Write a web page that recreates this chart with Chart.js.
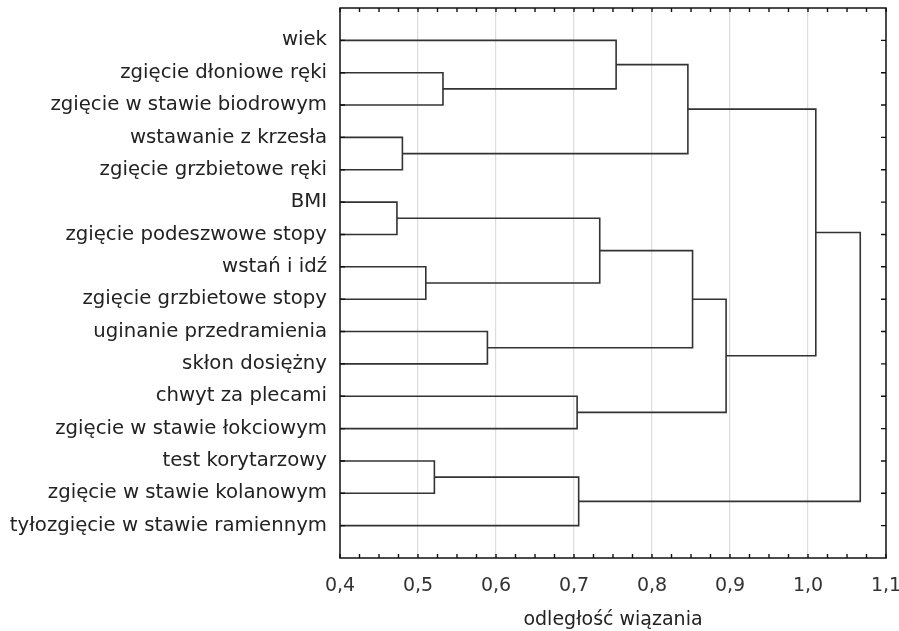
<!DOCTYPE html>
<html>
<head>
<meta charset="utf-8">
<script src="https://cdn.jsdelivr.net/npm/chart.js@4/dist/chart.umd.min.js"></script>
<style>
  body { margin: 0; background: #fff; }
  #wrap { width: 899px; height: 631px; }
</style>
</head>
<body>
<div id="wrap"><canvas id="dendro" width="899" height="631"></canvas></div>
<script>
// leaves, top to bottom
const leaves = [
    'wiek',
    'zgięcie dłoniowe ręki',
    'zgięcie w stawie biodrowym',
    'wstawanie z krzesła',
    'zgięcie grzbietowe ręki',
    'BMI',
    'zgięcie podeszwowe stopy',
    'wstań i idź',
    'zgięcie grzbietowe stopy',
    'uginanie przedramienia',
    'skłon dosiężny',
    'chwyt za plecami',
    'zgięcie w stawie łokciowym',
    'test korytarzowy',
    'zgięcie w stawie kolanowym',
    'tyłozgięcie w stawie ramiennym'
];
// merges: node 16 + k joins mergeA[k] and mergeB[k] at mergeHeight[k]
const mergeA = [1, 3, 5, 7, 9, 13, 0, 11, 21, 18, 22, 25, 27, 26, 29];
const mergeB = [2, 4, 6, 8, 10, 14, 16, 12, 15, 19, 17, 20, 23, 28, 24];
const mergeHeight = [0.532, 0.480, 0.473, 0.510, 0.589, 0.521, 0.754, 0.704, 0.706, 0.733, 0.846, 0.852, 0.895, 1.010, 1.067];
const xTicks = [0.4, 0.5, 0.6, 0.7, 0.8, 0.9, 1.0, 1.1];
const xTitle = 'odległość wiązania';

const X_MIN = xTicks[0], X_MAX = xTicks[xTicks.length - 1];

// node positions / heights
const pos = leaves.map((_, i) => i);
const height = leaves.map(() => X_MIN);
const datasets = [];
mergeA.forEach(function(a, k) {
    const b = mergeB[k], h = mergeHeight[k];
    datasets.push({
        data: [
            { x: height[a], y: pos[a] },
            { x: h, y: pos[a] },
            { x: h, y: pos[b] },
            { x: height[b], y: pos[b] }
        ],
        showLine: true,
        borderColor: '#333',
        borderWidth: 1.6,
        pointRadius: 0,
        fill: false
    });
    pos.push((pos[a] + pos[b]) / 2);
    height.push(h);
});

const fmt = v => v.toFixed(1).replace('.', ',');

// frame and inward tick marks
const framePlugin = {
    id: 'frame',
    afterDatasetsDraw(chart) {
        const { ctx, chartArea: ca, scales } = chart;
        ctx.save();
        ctx.strokeStyle = '#111';
        ctx.lineWidth = 1.4;
        ctx.beginPath();
        const steps = Math.round((X_MAX - X_MIN) / 0.025);
        for (let k = 0; k <= steps; k++) {
            const px = scales.x.getPixelForValue(X_MIN + k * 0.025);
            ctx.moveTo(px, ca.bottom); ctx.lineTo(px, ca.bottom - 4);
            ctx.moveTo(px, ca.top); ctx.lineTo(px, ca.top + 4);
        }
        leaves.forEach(function(_, i) {
            const py = scales.y.getPixelForValue(i);
            ctx.moveTo(ca.left, py); ctx.lineTo(ca.left + 5, py);
            ctx.moveTo(ca.right, py); ctx.lineTo(ca.right - 5, py);
        });
        ctx.stroke();
        ctx.lineWidth = 1.5;
        ctx.strokeRect(ca.left, ca.top, ca.right - ca.left, ca.bottom - ca.top);
        ctx.restore();
    }
};

new Chart(document.getElementById('dendro').getContext('2d'), {
    type: 'scatter',
    data: { datasets: datasets },
    options: {
        responsive: false,
        animation: false,
        layout: { padding: { top: 8, right: 13, left: 0, bottom: 0 } },
        plugins: {
            legend: { display: false },
            tooltip: { enabled: false }
        },
        scales: {
            x: {
                type: 'linear',
                min: X_MIN,
                max: X_MAX,
                afterBuildTicks: scale => { scale.ticks = xTicks.map(v => ({ value: v })); },
                afterFit: scale => {
                    scale.height = 73;
                    scale.paddingLeft = 0;
                    scale.paddingRight = 0;
                },
                ticks: {
                    callback: v => fmt(v),
                    color: '#333',
                    font: { family: 'DejaVu Sans', size: 19 },
                    padding: 17,
                    maxRotation: 0
                },
                grid: {
                    drawTicks: false,
                    color: c => (c.tick && (Math.abs(c.tick.value - X_MIN) < 1e-6 || Math.abs(c.tick.value - X_MAX) < 1e-6)) ? 'rgba(0,0,0,0)' : '#dcdcdc',
                    lineWidth: 1.2
                },
                border: { display: false },
                title: {
                    display: true,
                    text: xTitle,
                    color: '#222',
                    font: { family: 'DejaVu Sans', size: 19 },
                    padding: { top: 15, bottom: 0 }
                }
            },
            y: {
                type: 'linear',
                reverse: true,
                min: -1,
                max: 16,
                afterBuildTicks: scale => { scale.ticks = leaves.map((_, i) => ({ value: i })); },
                afterFit: scale => {
                    scale.width = 340;
                    scale.paddingTop = 0;
                    scale.paddingBottom = 0;
                },
                ticks: {
                    callback: v => leaves[v],
                    color: '#222',
                    font: { family: 'DejaVu Sans', size: 19.7 },
                    padding: 13
                },
                grid: { display: false, drawTicks: false },
                border: { display: false }
            }
        }
    },
    plugins: [framePlugin]
});
</script>
</body>
</html>
